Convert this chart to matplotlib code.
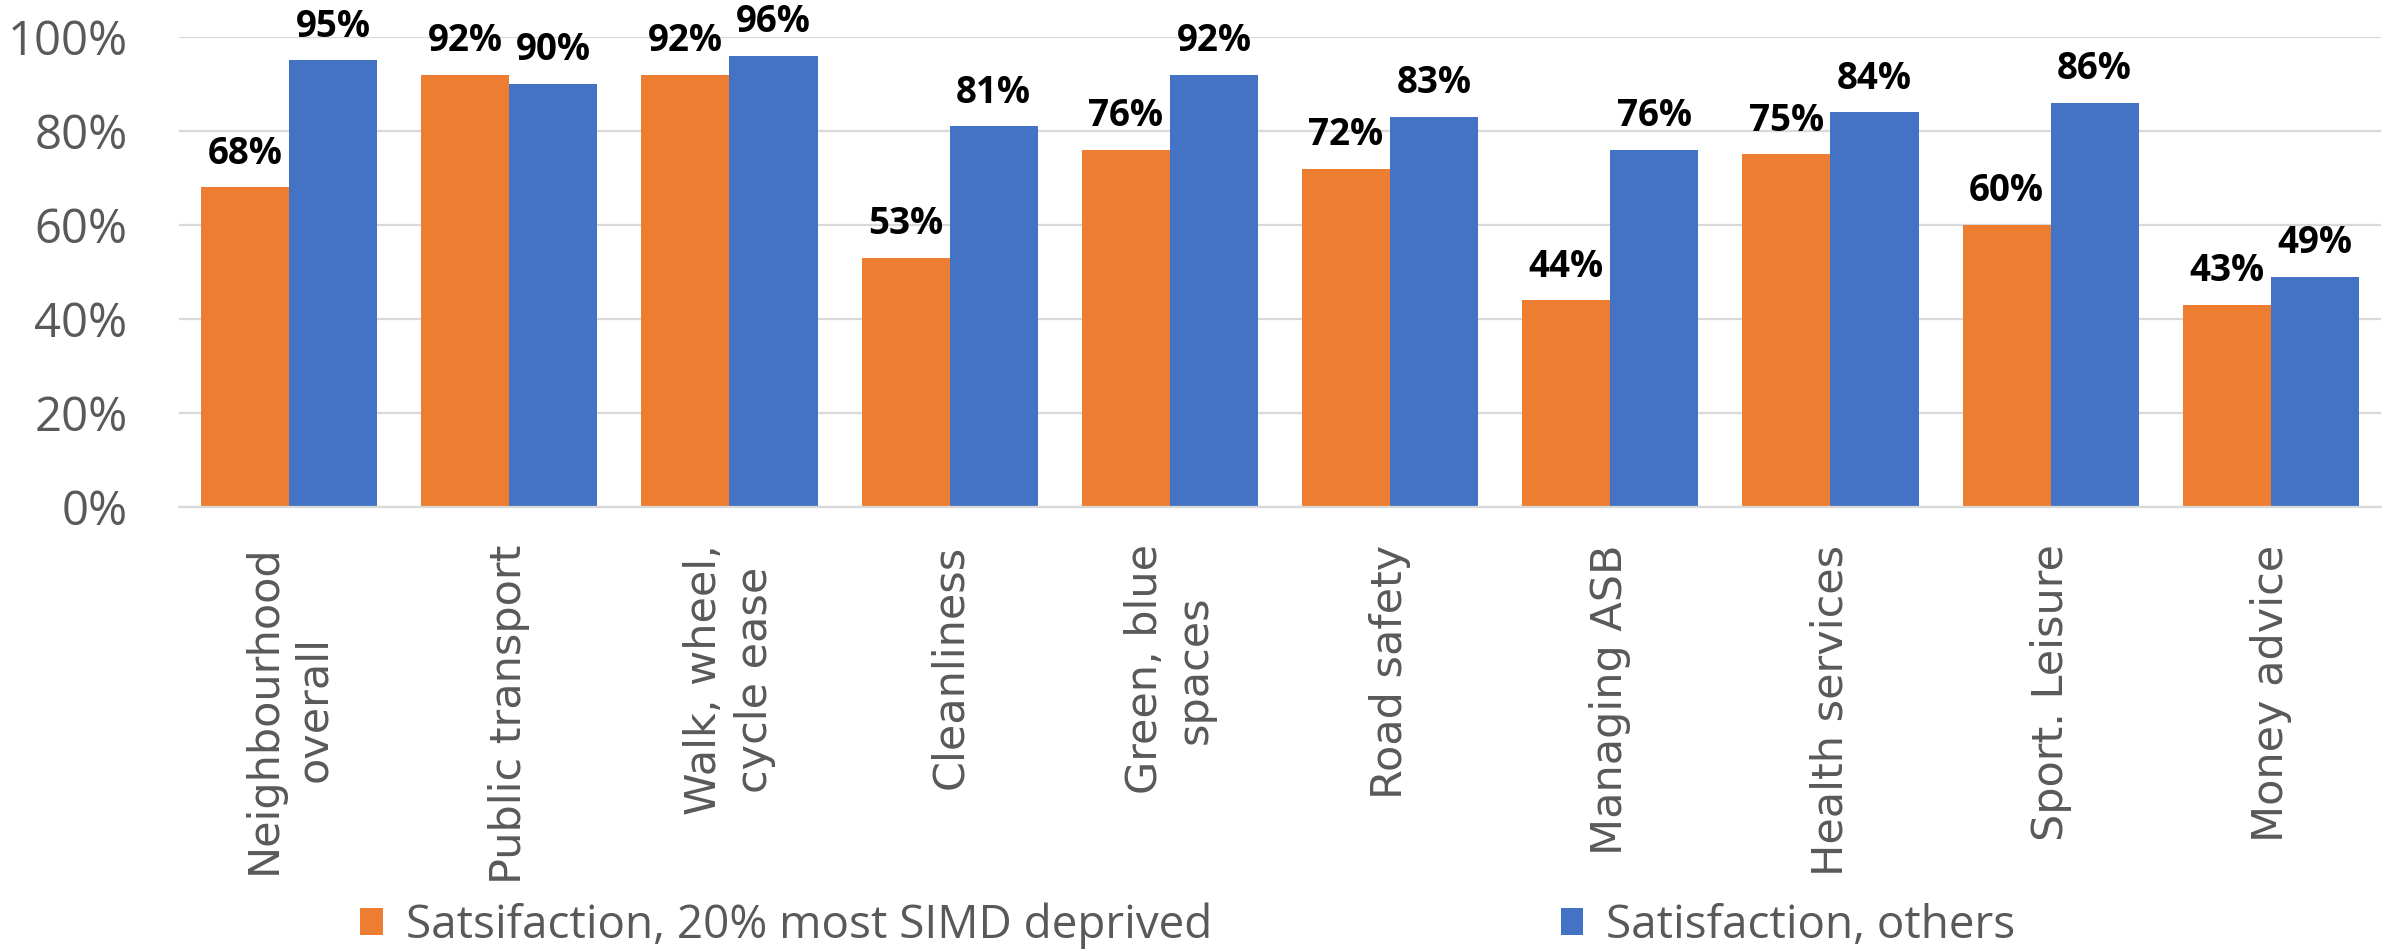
import matplotlib.pyplot as plt
import numpy as np
from matplotlib.ticker import PercentFormatter

# data
categories = ["Neighbourhood\noverall", "Public transport", "Walk, wheel,\ncycle ease",
              "Cleanliness", "Green, blue\nspaces", "Road safety", "Managing ASB",
              "Health services", "Sport. Leisure", "Money advice"]
deprived = [68, 92, 92, 53, 76, 72, 44, 75, 60, 43]
others = [95, 90, 96, 81, 92, 83, 76, 84, 86, 49]
series_names = ["Satsifaction, 20% most SIMD deprived", "Satisfaction, others"]
yticks = [0, 20, 40, 60, 80, 100]

orange = "#ED7D31"
blue = "#4472C4"
grey = "#595959"

fig = plt.figure(figsize=(23.9, 9.51), dpi=100)
ax = fig.add_axes([0.0749, 0.4669, 0.9213, 0.4942])

x = np.arange(len(categories))
w = 0.4
b1 = ax.bar(x - w / 2, deprived, w, color=orange, label=series_names[0], zorder=2)
b2 = ax.bar(x + w / 2, others, w, color=blue, label=series_names[1], zorder=2)

# value labels above bars
for bars, vals in [(b1, deprived), (b2, others)]:
    for rect, v in zip(bars, vals):
        ax.annotate(f"{v}%", (rect.get_x() + rect.get_width() / 2, v),
                    xytext=(0, 17), textcoords="offset points",
                    ha="center", va="baseline", fontsize=26.5, fontweight="bold",
                    family="Open Sans", color="black", annotation_clip=False)

ax.set_xlim(-0.5, len(categories) - 0.5)
ax.set_ylim(0, 100)
ax.set_yticks(yticks)
ax.yaxis.set_major_formatter(PercentFormatter(decimals=0))
ax.grid(axis="y", color="#D9D9D9", linewidth=1.6, zorder=0)
ax.set_axisbelow(True)
for s in ["top", "right", "left"]:
    ax.spines[s].set_visible(False)
ax.spines["bottom"].set_color("#D9D9D9")
ax.spines["bottom"].set_linewidth(1.6)

ax.tick_params(axis="both", length=0)
ax.tick_params(axis="y", pad=37)
ax.tick_params(axis="x", pad=27)
for lab in ax.get_yticklabels():
    lab.set_fontfamily("Open Sans")
    lab.set_fontsize(34)
    lab.set_color(grey)

ax.set_xticks(x)
ax.set_xticklabels(categories, rotation=90, fontsize=31, color=grey,
                   ha="center", va="top", multialignment="center",
                   family="DejaVu Sans", linespacing=1.25)

fig.legend(loc="center", bbox_to_anchor=(0.497, 0.027), ncol=2, frameon=False,
           prop={"family": "Open Sans", "size": 33}, labelcolor=grey,
           handlelength=0.5, handleheight=0.55, handletextpad=0.5,
           columnspacing=7.6, borderaxespad=0)

fig.savefig("out.png", dpi=100)
